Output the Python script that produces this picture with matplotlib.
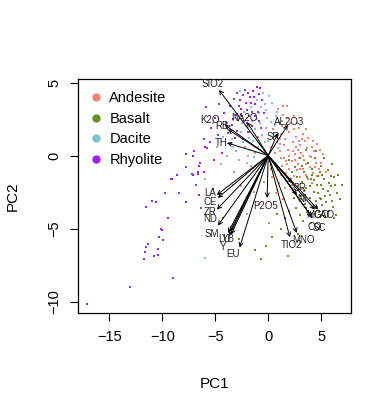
import matplotlib
matplotlib.use("Agg")
from matplotlib import pyplot as plt
from matplotlib.lines import Line2D

plt.rcParams["font.family"] = ["Liberation Sans", "DejaVu Sans"]

# groups and colours
groups = ["Andesite", "Basalt", "Dacite", "Rhyolite"]
colors = ["#F4806F", "#6B8E23", "#79C6CF", "#A020F0"]

# sample scores (PC1, PC2)
andesite = [
    (0.5, 1.8), (1.0, 2.3), (1.4, 2.8), (0.8, 0.9), (1.2, 1.5), (1.6, 1.1), (2.0, 1.6), (2.3, 0.9), (2.6, 1.3), (3.0, 0.7),
    (1.1, 0.3), (1.5, -0.2), (1.9, 0.4), (2.2, -0.4), (2.5, 0.1), (2.8, -0.6), (3.1, 0.2), (3.4, -0.3), (3.7, 0.5), (4.0, -0.1),
    (0.6, -0.5), (0.9, -1.0), (1.3, -0.7), (1.7, -1.2), (2.0, -0.9), (2.4, -1.4), (2.7, -1.0), (3.0, -1.5), (3.3, -0.9), (3.6, -1.3),
    (3.9, -0.8), (4.2, -1.2), (4.5, -0.5), (4.8, -0.9), (4.3, 0.3), (3.5, 1.0), (2.9, 1.9), (3.3, 1.5), (2.1, 2.2), (1.7, 2.0),
    (0.3, 0.6), (0.2, -0.2), (-0.3, 0.3), (-0.8, 0.8), (-1.2, 0.2), (-0.6, -0.6), (0.4, -1.5), (1.0, -1.9), (1.6, -2.2), (2.2, -2.0),
    (2.6, -2.6), (3.2, -2.3), (1.4, -3.0), (0.7, -2.6), (-0.4, -1.8), (-1.6, -0.7), (-2.2, 0.6), (-1.8, 1.6), (-1.0, 1.3), (-0.2, 1.9),
    (0.9, 3.2), (1.8, 3.4), (2.4, 2.7), (3.8, 1.2), (4.6, 0.8), (5.2, 0.1), (5.0, -0.5), (4.1, -1.9), (3.5, -2.7), (5.5, -1.1),
    (-2.6, -2.1), (-3.2, -1.1), (-1.3, -2.5), (-0.9, -3.3), (0.1, -4.6), (-2.0, -4.0), (2.8, 0.4), (3.9, 0.0), (1.2, -0.2), (2.0, 0.0),
    (1.5, 0.7), (2.3, 0.3), (2.9, -0.2), (3.6, -0.6), (1.8, -0.6), (2.6, 0.6), (4.4, -0.8), (3.2, 1.1), (0.8, 1.3), (1.3, 2.0),
    (1.9, 2.6), (2.7, 2.2), (3.6, 1.8), (4.2, 1.0), (4.9, 0.4), (2.4, 1.8), (1.1, 0.8), (0.6, 0.2), (1.7, -0.4), (2.5, -0.3),
    (3.3, 0.0), (4.1, 0.6), (3.0, -0.9), (2.1, -1.6), (1.2, -1.3), (0.3, -0.9), (3.8, -1.6), (4.6, -1.4), (2.9, 1.0), (1.4, 3.4),
]
basalt = [
    (2.0, -0.3), (2.5, -0.8), (3.0, -0.2), (3.4, -1.1), (3.8, -0.5), (4.1, -0.9), (4.4, -0.2), (4.7, -1.4), (5.0, -0.7), (5.3, -1.6),
    (5.6, -1.0), (5.9, -2.1), (6.2, -1.5), (6.5, -2.6), (3.2, -1.8), (3.6, -2.2), (4.0, -1.6), (4.3, -2.5), (4.6, -2.0), (4.9, -2.9),
    (5.2, -2.3), (5.5, -3.2), (5.8, -2.7), (6.1, -3.5), (2.8, -2.1), (3.1, -2.8), (3.5, -3.3), (3.9, -2.9), (4.2, -3.6), (4.5, -3.1),
    (4.8, -3.9), (5.1, -3.4), (5.4, -4.2), (5.7, -3.8), (6.4, -4.1), (6.8, -3.0), (2.4, -2.9), (2.6, -3.6), (3.0, -4.1), (3.3, -4.5),
    (3.7, -3.9), (4.0, -4.6), (2.0, -3.8), (1.6, -4.3), (1.2, -5.0), (0.8, -4.0), (1.8, -1.5), (2.2, -1.1), (3.6, 0.4), (4.5, 0.3),
    (5.3, -0.2), (6.0, -0.6), (7.0, -2.0), (6.6, -1.3), (4.1, -1.3), (3.7, -1.5), (4.9, -1.1), (5.7, -1.9), (-0.2, -6.2), (-1.2, -6.5),
    (-2.8, -5.7), (-4.3, -4.3), (1.9, -6.9), (-0.7, -7.1), (2.8, -5.4), (0.4, -5.6), (6.2, -4.3), (3.1, -3.0), (4.7, -2.6), (5.4, -2.8),
    (4.3, -1.7), (5.0, -2.0), (3.4, -2.4), (4.6, -3.5), (5.9, -1.4), (3.9, -2.1), (5.1, -1.3), (5.6, -2.4), (6.3, -2.0), (4.4, -4.0),
    (3.2, -0.7), (2.7, -1.5), (5.0, -3.0), (6.0, -3.1), (3.6, -3.6),
]
dacite = [
    (-0.5, 4.3), (0.1, 4.1), (-0.3, 3.5), (0.8, 3.0), (1.3, 2.4), (0.6, 2.1), (-0.1, 2.6), (-0.9, 2.9), (-1.5, 2.4), (-2.1, 2.0),
    (-2.6, 1.6), (-1.8, 1.2), (-1.2, 1.8), (-0.6, 1.4), (0.0, 1.0), (0.5, 1.5), (-1.0, 0.6), (-1.7, 0.4), (-2.4, 0.9), (-3.0, 0.3),
    (-3.4, 1.1), (-2.8, -0.3), (-3.9, 0.0), (-2.0, -0.5), (-1.3, -0.1), (-0.4, 0.4), (0.9, 0.5), (1.6, 1.9), (-4.3, 1.3), (-3.6, 2.0),
    (-0.2, 3.1), (-1.1, 3.8), (-2.3, 3.0), (1.1, 1.1), (-4.5, -0.6), (-6.0, -1.6), (-6.0, -7.0), (-3.3, -2.0), (-5.2, 2.2), (-4.8, 0.6),
    (-2.7, 4.4), (0.4, 3.6), (-0.8, 2.2), (-1.6, 3.3), (-3.1, 2.6), (-1.4, 1.0), (-2.0, 2.6), (-0.7, 3.3), (0.3, 2.3), (-1.9, 0.0),
    (-2.5, 2.2), (-3.3, 0.6), (-0.3, 0.9), (-1.1, 2.5), (0.7, 2.7),
]
rhyolite = [
    (-1.1, 4.7), (-0.8, 4.6), (-1.4, 4.4), (-2.4, 4.15), (-2.7, 3.8), (-1.6, 3.6), (-1.2, 3.5), (-2.0, 3.1), (-2.6, 3.2), (-3.0, 2.8),
    (-1.8, 2.7), (-0.9, 2.4), (-2.3, 2.4), (-3.4, 2.1), (-3.8, 1.55), (-1.5, 2.0), (-2.9, 1.7), (-4.2, 2.9), (-3.6, 3.4), (-1.0, 3.0),
    (-0.6, 3.8), (-2.2, 4.5), (-3.2, 3.9), (-4.6, 3.5), (-5.0, 2.6), (-4.0, 2.2), (-3.1, 1.2), (-2.4, 1.1), (-4.7, 1.4), (-5.9, 3.35),
    (-6.1, 1.1), (-6.0, 0.6), (-5.8, 0.5), (-5.4, 1.9), (-1.9, 1.6), (-0.4, 2.9), (-2.9, 4.3), (-1.7, 4.0), (-0.7, 1.9), (-3.5, 0.8),
    (-4.4, 0.2), (-5.1, -0.3), (-5.5, 0.9), (-6.3, -3.6), (-5.2, -2.3), (-1.3, 4.0), (-2.1, 3.6), (-1.5, 3.0), (-2.5, 2.7), (-1.9, 4.3),
    (-0.9, 4.2), (-2.8, 3.4), (-3.3, 2.5), (-1.2, 2.7), (-2.0, 2.2),
    (-17.1, -10.2), (-13.0, -9.0), (-9.0, -8.4), (-11.7, -7.1), (-10.8, -6.9), (-10.4, -6.8), (-11.6, -6.6), (-11.5, -6.3),
    (-11.3, -6.05), (-10.4, -6.4), (-9.9, -5.8), (-10.3, -5.6), (-10.15, -5.05), (-10.05, -5.1), (-9.5, -4.3), (-11.5, -3.5),
    (-11.0, -3.1), (-10.6, -3.15), (-9.75, -2.6), (-8.4, -2.6), (-7.8, -3.2), (-9.1, -1.6), (-8.65, -1.3), (-6.85, -2.05),
    (-6.5, -2.7), (-7.8, -0.8), (-7.2, -1.25), (-7.1, -1.35), (-6.65, -1.15), (-6.5, -0.7), (-7.8, 0.1), (-7.1, -0.05),
    (-7.0, 0.3), (-6.45, -0.5), (-6.6, -1.25), (-6.1, -1.1), (-9.2, -1.6),
]

# variable loadings: name, arrow tip, label position
loadings = [
    ("SIO2", (-4.65, 4.5), (-5.2, 4.9)),
    ("K2O", (-4.1, 2.1), (-5.5, 2.45)),
    ("RB", (-3.8, 1.8), (-4.4, 2.0)),
    ("NA2O", (-2.0, 2.3), (-2.2, 2.6)),
    ("TH", (-3.9, 0.87), (-4.4, 0.87)),
    ("AL2O3", (1.86, 2.1), (2.0, 2.3)),
    ("SR", (0.9, 1.55), (0.45, 1.3)),
    ("LA", (-4.85, -2.7), (-5.5, -2.55)),
    ("CE", (-4.75, -2.9), (-5.5, -3.2)),
    ("ZR", (-4.85, -3.7), (-5.5, -3.85)),
    ("ND", (-4.75, -4.8), (-5.5, -4.35)),
    ("SM", (-3.8, -5.3), (-5.3, -5.4)),
    ("LU", (-3.5, -5.4), (-4.1, -5.75)),
    ("YB", (-3.6, -5.2), (-3.8, -5.75)),
    ("Y", (-3.7, -5.5), (-4.3, -6.25)),
    ("EU", (-2.7, -6.3), (-3.3, -6.75)),
    ("P2O5", (-0.1, -2.9), (-0.2, -3.45)),
    ("TIO2", (2.05, -5.6), (2.25, -6.1)),
    ("MNO", (2.7, -5.3), (3.3, -5.8)),
    ("CR", (2.3, -1.9), (3.0, -2.2)),
    ("NI", (2.7, -2.7), (3.2, -3.0)),
    ("MGO", (4.4, -3.7), (4.7, -4.05)),
    ("CAO", (4.7, -3.7), (5.3, -4.05)),
    ("CO", (4.1, -4.2), (4.4, -4.9)),
    ("SC", (4.2, -4.3), (4.8, -4.95)),
]

fig = plt.figure(figsize=(3.92, 4.11), dpi=100)
ax = fig.add_axes([0.199, 0.238, 0.696, 0.570])

for name, pts, col in zip(groups, [andesite, basalt, dacite, rhyolite], colors):
    xs = [p[0] for p in pts]
    ys = [p[1] for p in pts]
    ax.scatter(xs, ys, s=3.5, marker="s", color=col, linewidths=0, zorder=2)

for name, tip, lab in loadings:
    ax.annotate("", xy=tip, xytext=(0, 0),
                arrowprops=dict(arrowstyle="->", color="black", lw=0.7,
                                shrinkA=0, shrinkB=0, mutation_scale=7),
                zorder=3)
    ax.text(lab[0], lab[1], name, fontsize=7, ha="center", va="center",
            color="#222222", zorder=4)

ax.set_xlim(-17.95, 7.8)
ax.set_ylim(-10.8, 5.25)
ax.set_xticks([-15, -10, -5, 0, 5])
ax.set_yticks([-10, -5, 0, 5])
ax.tick_params(direction="out", length=6, width=0.8, labelsize=10.5, pad=6)
for lbl in ax.get_yticklabels():
    lbl.set_rotation(90)
    lbl.set_va("center")
for sp in ax.spines.values():
    sp.set_linewidth(0.9)

ax.set_xlabel("PC1", fontsize=11, labelpad=24)
ax.set_ylabel("PC2", fontsize=11, labelpad=20)

handles = [Line2D([], [], marker="o", linestyle="none", markersize=5,
                  markerfacecolor=c, markeredgecolor=c) for c in colors]
ax.legend(handles, groups, loc="upper left", frameon=False, fontsize=10.5,
          handletextpad=0.5, labelspacing=0.45, borderaxespad=0.45,
          handlelength=0.8, borderpad=0.4)

fig.savefig("out.png", dpi=100)
